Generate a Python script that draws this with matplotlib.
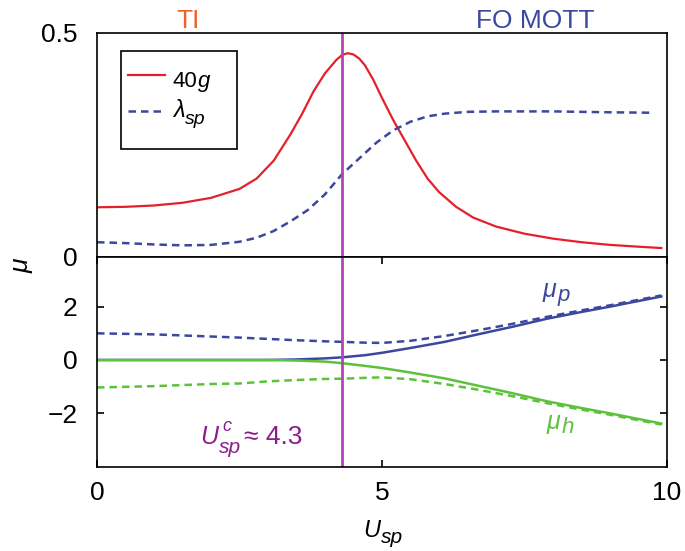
import numpy as np
import matplotlib
matplotlib.use('Agg')
import matplotlib.pyplot as plt
from matplotlib.lines import Line2D
from matplotlib.patches import Rectangle

plt.rcParams['font.family'] = ['Liberation Sans', 'DejaVu Sans']
plt.rcParams['mathtext.fontset'] = 'custom'
plt.rcParams['mathtext.rm'] = 'Liberation Sans'
plt.rcParams['mathtext.it'] = 'Liberation Sans:italic'

# top panel: 40g (red) and lambda_sp (blue dashed)
x_g = [0, 0.5, 1.0, 1.5, 2.0, 2.5, 2.8, 3.1, 3.4, 3.6, 3.8, 4.0, 4.2, 4.3, 4.4,
       4.5, 4.6, 4.7, 4.85, 5.0, 5.2, 5.4, 5.6, 5.8, 6.0, 6.3, 6.6, 7.0, 7.5,
       8.0, 8.5, 9.0, 9.5, 9.9]
g40 = [0.111, 0.112, 0.115, 0.121, 0.132, 0.152, 0.175, 0.215, 0.275, 0.32,
       0.37, 0.41, 0.44, 0.451, 0.455, 0.452, 0.443, 0.428, 0.395, 0.355, 0.305,
       0.26, 0.215, 0.175, 0.145, 0.112, 0.088, 0.068, 0.052, 0.041, 0.033,
       0.027, 0.023, 0.02]

x_lam = [0, 0.5, 1.0, 1.5, 2.0, 2.5, 2.8, 3.1, 3.4, 3.7, 4.0, 4.3, 4.6, 4.9,
         5.2, 5.5, 5.8, 6.1, 6.5, 7.0, 8.0, 9.0, 9.75]
lam_sp = [0.033, 0.031, 0.028, 0.026, 0.027, 0.034, 0.043, 0.058, 0.08, 0.105,
          0.14, 0.185, 0.22, 0.255, 0.283, 0.302, 0.314, 0.32, 0.324, 0.325,
          0.325, 0.323, 0.322]

# bottom panel: chemical potentials
x_mu = [0, 1.0, 2.0, 2.5, 3.0, 3.5, 4.0, 4.3, 4.7, 5.0, 5.5, 6.1, 6.7, 7.3,
        7.9, 8.5, 9.0, 9.9]
mu_p = [0, 0, 0, 0, 0.0, 0.02, 0.06, 0.1, 0.18, 0.27, 0.45, 0.68, 0.97, 1.25,
        1.55, 1.8, 2.0, 2.38]
mu_p_dash = [1.0, 0.96, 0.88, 0.84, 0.79, 0.74, 0.70, 0.68, 0.65, 0.64, 0.72,
             0.9, 1.12, 1.36, 1.62, 1.86, 2.05, 2.42]
mu_h = [0, 0, 0, 0, 0.0, -0.02, -0.06, -0.12, -0.22, -0.3, -0.47, -0.69, -0.97,
        -1.25, -1.55, -1.8, -2.0, -2.38]
mu_h_dash = [-1.03, -0.98, -0.9, -0.88, -0.8, -0.75, -0.71, -0.7, -0.67, -0.65,
             -0.72, -0.9, -1.12, -1.36, -1.62, -1.86, -2.05, -2.42]

U_c = 4.3

red = '#E5202A'
blue = '#3C479E'
green = '#5CC23B'
purple_line = '#B443B4'
purple_txt = '#8A1C8C'
orange = '#F0602A'

W, H = 685, 551
fig = plt.figure(figsize=(6.85, 5.51), dpi=100)
ax1 = fig.add_axes([97 / W, 1 - 257 / H, 570 / W, 224 / H])
ax2 = fig.add_axes([97 / W, 1 - 467 / H, 570 / W, 210 / H])


def sub_text(ax, x, y, main, sub, size, subsize, color, drop, trans=None,
             sup=None, supsize=None, rise=0, **kw):
    # italic symbol with a large subscript (and optional superscript)
    trans = trans if trans is not None else ax.transData
    t = ax.text(x, y, main, fontsize=size, style='italic', color=color,
                ha='left', va='baseline', transform=trans, **kw)
    s = ax.annotate(sub, xy=(1, y), xycoords=(t, trans), xytext=(0.5, -drop),
                    textcoords='offset points', fontsize=subsize,
                    style='italic', color=color, ha='left', va='baseline', **kw)
    if sup is not None:
        ax.annotate(sup, xy=(1, y), xycoords=(t, trans), xytext=(3, rise),
                    textcoords='offset points', fontsize=supsize,
                    style='italic', color=color, ha='left', va='baseline', **kw)
    return t, s


# ---- top panel
ax1.plot(x_g, g40, color=red, lw=1.6)
ax1.plot(x_lam, lam_sp, color=blue, lw=1.8, ls=(0, (3, 2)))
ax1.axvline(U_c, color=purple_line, lw=2)
ax1.set_xlim(0, 10)
ax1.set_ylim(0, 0.5)
ax1.set_yticks([0, 0.5])
ax1.set_yticklabels(['0', '0.5'])
ax1.set_xticks([])
ax1.tick_params(axis='y', length=0, labelsize=19, pad=14)

# legend box drawn in axes fraction
ax1.add_patch(Rectangle((0.042, 0.482), 0.203, 0.439, transform=ax1.transAxes,
                        fill=False, edgecolor='black', lw=1.2, zorder=5))
ax1.add_line(Line2D([0.054, 0.119], [0.8125, 0.8125], transform=ax1.transAxes,
                    color=red, lw=1.6, zorder=6))
ax1.add_line(Line2D([0.054, 0.119], [0.652, 0.652], transform=ax1.transAxes,
                    color=blue, lw=1.8, ls=(0, (3, 2)), zorder=6))
t40 = ax1.text(0.133, 0.759, '40', transform=ax1.transAxes, fontsize=16,
               ha='left', va='baseline')
ax1.annotate('g', xy=(1, 0.759), xycoords=(t40, ax1.transAxes),
             xytext=(0, 0), textcoords='offset points', fontsize=16,
             style='italic', ha='left', va='baseline')
sub_text(ax1, 0.133, 0.625, '\u03bb', 'sp', 17, 14, 'black', 5,
         trans=ax1.transAxes)

# ---- bottom panel
ax2.plot(x_mu, mu_p_dash, color=blue, lw=1.8, ls=(0, (3, 2)))
ax2.plot(x_mu, mu_p, color=blue, lw=1.8)
ax2.plot(x_mu, mu_h_dash, color=green, lw=1.8, ls=(0, (3, 2)))
ax2.plot(x_mu, mu_h, color=green, lw=1.8)
ax2.axvline(U_c, color=purple_line, lw=2)
ax2.set_xlim(0, 10)
ax2.set_ylim(-4.01, 3.86)
ax2.set_yticks([-2, 0, 2])
ax2.set_yticklabels(['\u22122', '0', '2'])
ax2.set_xticks([0, 5, 10])
ax2.tick_params(direction='in', length=5, width=1.2, labelsize=19,
                top=True, right=True)
ax2.tick_params(axis='y', pad=14)
ax2.tick_params(axis='x', pad=10)

sub_text(ax2, 7.82, 2.36, '\u03bc', 'p', 18, 16, blue, 3)
sub_text(ax2, 7.89, -2.59, '\u03bc', 'h', 18, 16, green, 3)
tU, tsp = sub_text(ax2, 1.807, -3.13, 'U', 'sp', 18, 15, purple_txt, 6.5,
                   sup='c', supsize=13, rise=9)
ax2.annotate('\u2248 4.3', xy=(1, -3.13), xycoords=(tsp, ax2.transData),
             xytext=(2, 0), textcoords='offset points', fontsize=19,
             color=purple_txt, ha='left', va='baseline')

for ax in (ax1, ax2):
    for s in ax.spines.values():
        s.set_linewidth(1.2)

fig.text(188 / W, 1 - 21 / H, 'TI', color=orange, fontsize=19,
         ha='center', va='center')
fig.text(535 / W, 1 - 21 / H, 'FO MOTT', color=blue, fontsize=19,
         ha='center', va='center')
fig.text(22 / W, 1 - 266 / H, '\u03bc', fontsize=19, style='italic',
         rotation=90, ha='center', va='center')
sub_text(ax2, 363 / W, 1 - 537 / H, 'U', 'sp', 17, 15, 'black', 4.5,
         trans=fig.transFigure)

fig.savefig('out.png', dpi=100)
